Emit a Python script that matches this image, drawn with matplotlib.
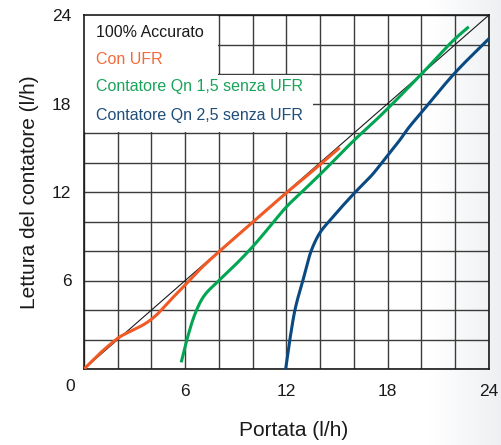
import numpy as np
import matplotlib
matplotlib.use("Agg")
import matplotlib.pyplot as plt
from matplotlib.patches import Rectangle

plt.rcParams["font.family"] = ["Liberation Sans", "DejaVu Sans"]

# valori (l/h)
accurato_x = [0, 24]
accurato_y = [0, 24]

ufr_x = [0, 0.94, 1.73, 2.12, 2.9, 3.69, 4.27, 5.06, 6.0, 7.0, 8.0, 10.0, 12.0, 13.0, 15.15]
ufr_y = [0, 1.06, 1.84, 2.18, 2.63, 3.12, 3.64, 4.6, 5.7, 6.9, 7.95, 9.95, 11.95, 12.9, 15.0]

qn15_x = [5.76, 6.1, 6.59, 7.08, 8.0, 9.06, 10.0, 11.0, 12.0, 13.0, 14.0, 16.0, 17.5, 20.0, 22.0, 22.8]
qn15_y = [0.45, 2.0, 3.77, 4.9, 6.0, 7.17, 8.3, 9.64, 11.0, 12.1, 13.2, 15.5, 17.1, 20.0, 22.4, 23.2]

qn25_x = [11.95, 12.2, 12.5, 12.97, 13.46, 13.96, 14.55, 15.2, 16.0, 17.1, 18.0, 18.7, 19.2, 20.0, 22.0, 24.0]
qn25_y = [0, 2.0, 4.0, 6.0, 8.0, 9.2, 10.05, 10.9, 11.9, 13.2, 14.5, 15.5, 16.3, 17.4, 20.1, 22.4]

tick_vals = [6, 12, 18, 24]
legend_labels = ["100% Accurato", "Con UFR", "Contatore Qn 1,5 senza UFR", "Contatore Qn 2,5 senza UFR"]
legend_colors = ["#1a1a1a", "#f26a3a", "#1aa35a", "#1f4e79"]


def smooth(x, y, n=300):
    # pchip a mano, solo per disegnare le curve morbide
    x = np.asarray(x, float)
    y = np.asarray(y, float)
    h = np.diff(x)
    d = np.diff(y) / h
    m = np.zeros_like(y)
    for k in range(1, len(x) - 1):
        if d[k - 1] * d[k] > 0:
            w1 = 2 * h[k] + h[k - 1]
            w2 = h[k] + 2 * h[k - 1]
            m[k] = (w1 + w2) / (w1 / d[k - 1] + w2 / d[k])
    m[0] = d[0]
    m[-1] = d[-1]
    xs = np.linspace(x[0], x[-1], n)
    idx = np.clip(np.searchsorted(x, xs) - 1, 0, len(x) - 2)
    t = (xs - x[idx]) / h[idx]
    h00 = 2 * t**3 - 3 * t**2 + 1
    h10 = t**3 - 2 * t**2 + t
    h01 = -2 * t**3 + 3 * t**2
    h11 = t**3 - t**2
    ys = h00 * y[idx] + h10 * h[idx] * m[idx] + h01 * y[idx + 1] + h11 * h[idx] * m[idx + 1]
    return xs, ys


fig = plt.figure(figsize=(5.02, 4.45), dpi=100)

# leggero sfondo sfumato a destra
bg = fig.add_axes([0, 0, 1, 1], zorder=-10)
grad = np.ones((10, 256, 3))
xs = np.linspace(0, 1, 256)
t = np.clip((xs - 0.86) / 0.14, 0, 1)
for i, c in enumerate([0.93, 0.94, 0.95]):
    grad[:, :, i] = 1 - (1 - c) * t
bg.imshow(grad, aspect="auto", extent=[0, 1, 0, 1])
bg.axis("off")

ax = fig.add_axes([84 / 502, 1 - 369 / 445, 405 / 502, 354 / 445])
ax.set_facecolor("none")
ax.set_xlim(0, 24)
ax.set_ylim(0, 24)
ax.set_xticks(np.arange(0, 25, 2), minor=True)
ax.set_yticks(np.arange(0, 25, 2), minor=True)
ax.set_xticks(tick_vals)
ax.set_yticks(tick_vals)
ax.grid(True, which="both", color="#3c3c3c", linewidth=1.0)
ax.set_axisbelow(True)
ax.tick_params(which="both", length=0, labelsize=12.5, colors="#1a1a1a")
ax.tick_params(axis="x", pad=11)
ax.tick_params(axis="y", pad=9)
for s in ax.spines.values():
    s.set_color("#1a1a1a")
    s.set_linewidth(1.2)

# riquadri bianchi della legenda
ax.add_patch(Rectangle((0, 19.9), 7.95, 4.1, facecolor="white", edgecolor="none", zorder=1.5))
ax.add_patch(Rectangle((0, 16.05), 13.6, 3.9, facecolor="white", edgecolor="none", zorder=1.5))

ax.plot(accurato_x, accurato_y, color="#1a1a1a", linewidth=0.8, zorder=3)
ax.plot(*smooth(ufr_x, ufr_y), color="#f15a24", linewidth=2.2, zorder=4, solid_capstyle="butt")
ax.plot(*smooth(qn15_x, qn15_y), color="#00a651", linewidth=2.2, zorder=4, solid_capstyle="butt")
ax.plot(*smooth(qn25_x, qn25_y), color="#0a4a82", linewidth=2.2, zorder=4, solid_capstyle="butt")

for lab, col, yy in zip(legend_labels, legend_colors, [22.78, 20.95, 19.12, 17.22]):
    ax.text(0.71, yy, lab, color=col, fontsize=11.5, ha="left", va="center", zorder=5)

ax.text(-0.035, -0.05, "0", transform=ax.transAxes, fontsize=12.5, color="#1a1a1a",
        ha="center", va="center")

fig.text(30 / 502, 1 - 192 / 445, "Lettura del contatore (l/h)", rotation=90,
         fontsize=15, color="#1a1a1a", ha="center", va="center")
fig.text(294 / 502, 1 - 431 / 445, "Portata (l/h)", fontsize=15, color="#1a1a1a",
         ha="center", va="center")

fig.savefig("out.png", dpi=100)
